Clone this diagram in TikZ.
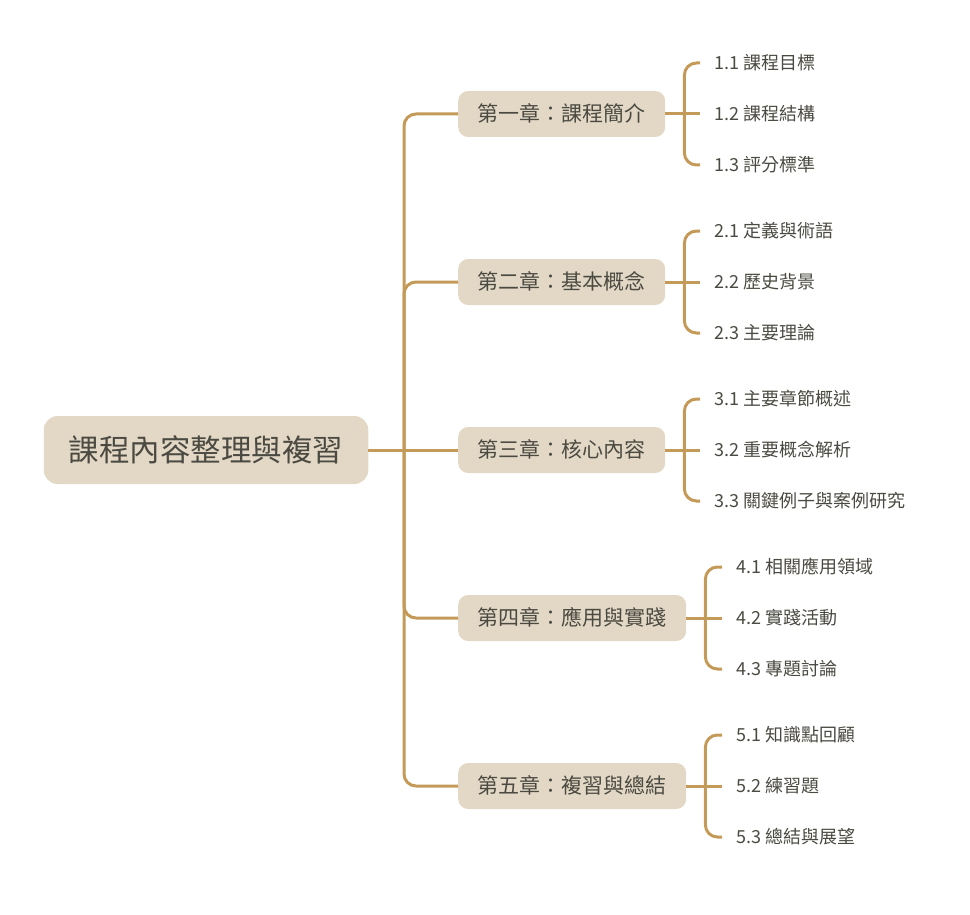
\documentclass[tikz,border=0pt]{standalone}
\usepackage{fontspec}
\setmainfont{Noto Sans CJK TC}
\usetikzlibrary{positioning}
\definecolor{branchline}{HTML}{C49A58}
\definecolor{boxfill}{HTML}{E3D8C5}
\definecolor{inktext}{HTML}{4B4A42}
\tikzset{
rootbox/.style={fill=boxfill, rounded corners=14pt, text=inktext, font=\fontsize{30.5}{34}\selectfont,
  inner xsep=25pt, inner ysep=0pt, minimum height=68pt, text height=25.3pt, text depth=2.1pt},
chapbox/.style={fill=boxfill, rounded corners=10pt, text=inktext, font=\fontsize{21}{24}\selectfont,
  inner xsep=19.5pt, inner ysep=0pt, minimum height=46pt, anchor=west, text height=17.4pt, text depth=1.5pt},
leaf/.style={text=inktext, font=\fontsize{18}{21}\selectfont, inner xsep=14pt, inner ysep=0pt,
  anchor=west, text height=14.9pt, text depth=1.3pt},
branch/.style={draw=branchline, line width=3pt, rounded corners=12pt},
}
\begin{document}
\begin{tikzpicture}[x=1pt, y=-1pt]
    \useasboundingbox (0,0) rectangle (970,915);

    %root
    \node[rootbox]   (root) at (206,450) {課程內容整理與複習};

    %chapters
    \node[chapbox]    (ch1) at (458,114) {第一章：課程簡介};
    \node[chapbox]    (ch2) at (458,282) {第二章：基本概念};
    \node[chapbox]    (ch3) at (458,450) {第三章：核心內容};
    \node[chapbox]    (ch4) at (458,618) {第四章：應用與實踐};
    \node[chapbox]    (ch5) at (458,786) {第五章：複習與總結};

    %leaves of ch1
    \node[leaf]   (l11) at (700,63)  {1.1 課程目標};
    \node[leaf]   (l12) at (700,114) {1.2 課程結構};
    \node[leaf]   (l13) at (700,165) {1.3 評分標準};

    %leaves of ch2
    \node[leaf]   (l21) at (700,231) {2.1 定義與術語};
    \node[leaf]   (l22) at (700,282) {2.2 歷史背景};
    \node[leaf]   (l23) at (700,333) {2.3 主要理論};

    %leaves of ch3
    \node[leaf]   (l31) at (700,399) {3.1 主要章節概述};
    \node[leaf]   (l32) at (700,450) {3.2 重要概念解析};
    \node[leaf]   (l33) at (700,501) {3.3 關鍵例子與案例研究};

    %leaves of ch4
    \node[leaf]   (l41) at (722,567) {4.1 相關應用領域};
    \node[leaf]   (l42) at (722,618) {4.2 實踐活動};
    \node[leaf]   (l43) at (722,669) {4.3 專題討論};

    %leaves of ch5
    \node[leaf]   (l51) at (722,735) {5.1 知識點回顧};
    \node[leaf]   (l52) at (722,786) {5.2 練習題};
    \node[leaf]   (l53) at (722,837) {5.3 總結與展望};

    %trunk
    \coordinate (hub) at (404,450);
    \draw[branch] (root.east) -- (ch3.west);
    \draw[branch] (hub) |- (ch1.west);
    \draw[branch] (hub) |- (ch2.west);
    \draw[branch] (hub) |- (ch4.west);
    \draw[branch] (hub) |- (ch5.west);

    %brackets
    \foreach \c in {1,...,5}{
        \coordinate (h\c) at ([xshift=19]ch\c.east);
        \draw[branch] (ch\c.east) -- (l\c2.west);
        \draw[branch] (h\c) |- (l\c1.west);
        \draw[branch] (h\c) |- (l\c3.west);
    }

\end{tikzpicture}
\end{document}
